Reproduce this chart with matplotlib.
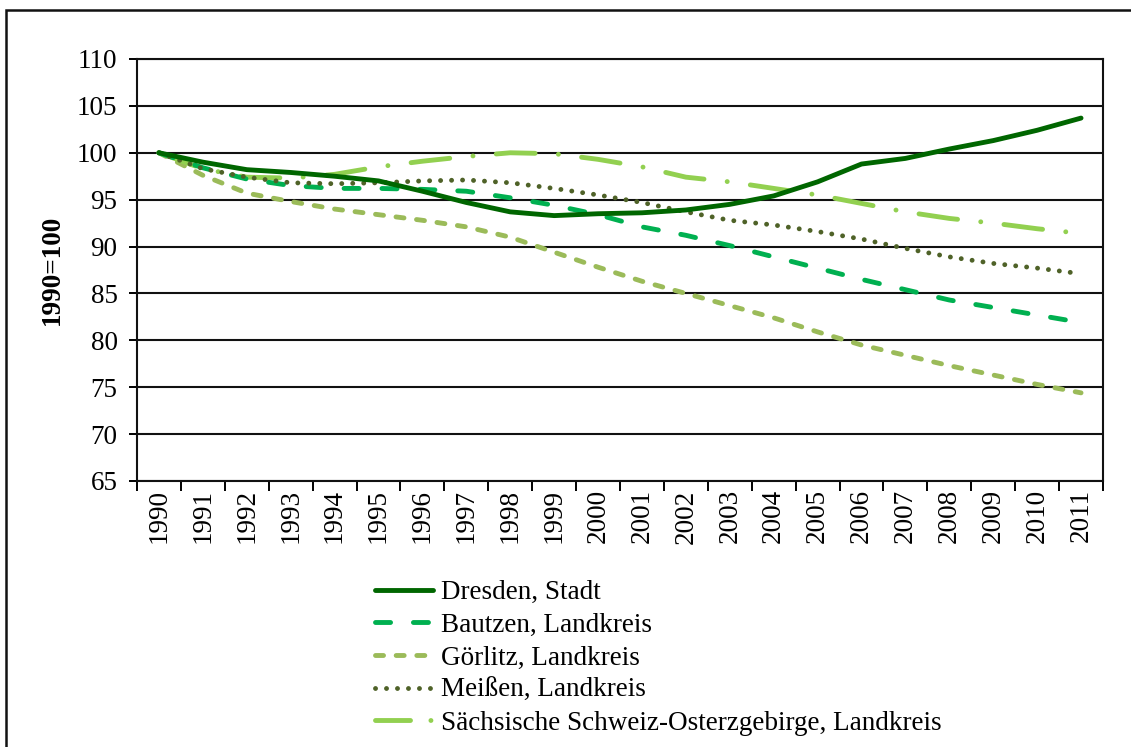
import matplotlib
matplotlib.use("Agg")
import matplotlib.pyplot as plt
from matplotlib.patches import Rectangle
from matplotlib.lines import Line2D
from matplotlib.ticker import FixedLocator

years = [str(y) for y in range(1990, 2012)]

dresden = [100.0, 99.0, 98.2, 97.9, 97.5, 97.0, 95.9, 94.7, 93.7, 93.3, 93.5, 93.6,
           93.9, 94.5, 95.4, 96.9, 98.8, 99.4, 100.4, 101.3, 102.4, 103.7]
bautzen = [100.0, 98.4, 97.2, 96.5, 96.2, 96.2, 96.1, 95.9, 95.2, 94.4, 93.4, 92.1,
           91.2, 90.1, 88.9, 87.7, 86.5, 85.4, 84.3, 83.5, 82.7, 81.9]
goerlitz = [100.0, 97.6, 95.7, 94.8, 94.0, 93.4, 92.8, 92.1, 91.0, 89.4, 87.8, 86.3,
            85.0, 83.7, 82.4, 80.9, 79.5, 78.4, 77.3, 76.3, 75.3, 74.4]
meissen = [100.0, 98.3, 97.4, 96.8, 96.7, 96.8, 97.0, 97.1, 96.8, 96.2, 95.5, 94.7,
           93.7, 92.8, 92.3, 91.6, 90.8, 89.8, 88.9, 88.2, 87.7, 87.1]
saechs = [100.0, 98.3, 97.4, 97.3, 97.7, 98.5, 99.1, 99.6, 100.0, 99.9, 99.3, 98.5,
          97.4, 96.9, 96.2, 95.5, 94.6, 93.7, 93.0, 92.5, 91.9, 91.4]

labels = ["Dresden, Stadt", "Bautzen, Landkreis", "Görlitz, Landkreis",
          "Meißen, Landkreis", "Sächsische Schweiz-Osterzgebirge, Landkreis"]
colors = ['#006600', '#00B050', '#9BBB59', '#4F6228', '#92D050']
styles = ['-', (0, (3.1, 4.7)), (0, (1.65, 2.6)), (0, (0.01, 2.25)),
          (0, (8.0, 4.8, 0.01, 4.8))]
legend_styles = ['-', (0, (3.1, 4.7)), (0, (1.65, 2.6)), (0, (0.01, 2.25)),
                 (0, (7.2, 4.2, 0.01, 4.2))]

W, H = 1131, 747
FS = 19.5
fig = plt.figure(figsize=(W / 100, H / 100), dpi=100)
plt.rcParams['font.family'] = ['Liberation Serif', 'DejaVu Serif']

ax = fig.add_axes([137 / W, 1 - 481 / H, (1103 - 137) / W, (481 - 59) / H])
x = list(range(len(years)))
lw = 3.5

series = [dresden, bautzen, goerlitz, meissen, saechs]
zorders = [5, 4, 3, 4, 3]
for ys, c, st, z in zip(series, colors, styles, zorders):
    ax.plot(x, ys, color=c, lw=lw, linestyle=st, dash_capstyle='round',
            solid_capstyle='round', zorder=z)

ax.set_xlim(-0.5, len(years) - 0.5)
ax.set_ylim(65, 110)
ax.set_yticks(range(65, 111, 5))
ax.set_xticks(x)
ax.set_xticklabels(years, rotation=90)
ax.xaxis.set_minor_locator(FixedLocator([i - 0.5 for i in range(len(years) + 1)]))
ax.tick_params(axis='x', which='major', length=0, pad=6, labelsize=FS)
ax.tick_params(axis='x', which='minor', length=7, width=1.4, direction='out')
ax.tick_params(axis='y', length=6, width=1.4, direction='out', pad=8, labelsize=FS)
ax.yaxis.grid(True, color='#111111', lw=1.5)
ax.set_axisbelow(True)
for s in ax.spines.values():
    s.set_linewidth(1.5)
    s.set_color('#111111')

fig.text(52 / W, 1 - 270 / H, "1990=100", rotation=90, ha='center', va='center',
         fontsize=FS, fontweight='bold')

handles = [Line2D([], [], color=c, lw=lw, linestyle=st, dash_capstyle='round',
                  solid_capstyle='round') for c, st in zip(colors, legend_styles)]
leg = fig.legend(handles, labels, loc='upper left', bbox_to_anchor=(375 / W, 1 - 580 / H),
                 frameon=False, fontsize=FS, handlelength=2.15, handletextpad=0.3,
                 labelspacing=0.285, borderpad=0, borderaxespad=0)

fig.patches.append(Rectangle((6 / W, -0.05), 1.1, 1 - 10 / H + 0.05, transform=fig.transFigure,
                             fill=False, lw=1.8, edgecolor='#111111'))

fig.savefig("out.png", dpi=100)
